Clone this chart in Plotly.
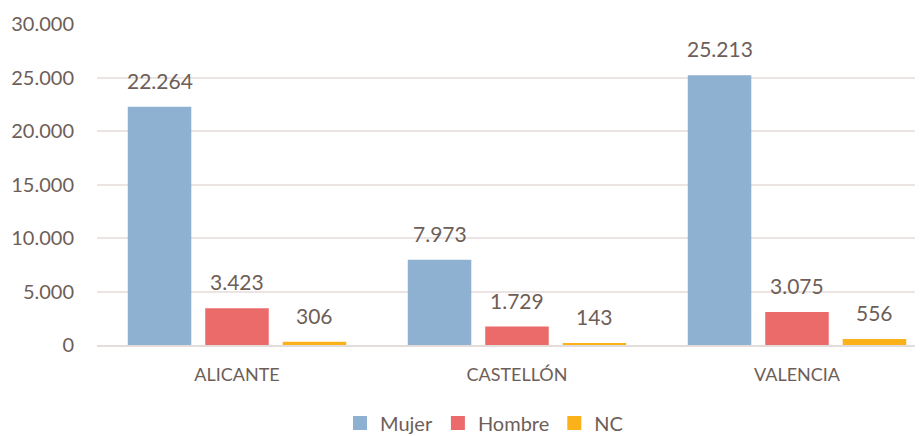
import plotly.graph_objects as go

categories = ["ALICANTE", "CASTELLÓN", "VALENCIA"]
series_names = ["Mujer", "Hombre", "NC"]
mujer = [22264, 7973, 25213]
hombre = [3423, 1729, 3075]
nc = [306, 143, 556]
y_ticks = [0, 5000, 10000, 15000, 20000, 25000, 30000]
y_tick_labels = ["0", "5.000", "10.000", "15.000", "20.000", "25.000", "30.000"]

colors = ["#8fb1d1", "#eb6b6b", "#fbb21a"]
text_color = "#6e5e58"
font_family = "Lato, 'Open Sans', sans-serif"

def fmt(v):
    return f"{v:,}".replace(",", ".")

fig = go.Figure()
all_series = [mujer, hombre, nc]
for name, vals, col in zip(series_names, all_series, colors):
    fig.add_trace(go.Bar(
        name=name, x=categories, y=vals, showlegend=False,
        marker=dict(color=col, line=dict(width=0)),
    ))
# legend entries with square swatches (as in the reference)
for name, col in zip(series_names, colors):
    fig.add_trace(go.Scatter(
        name=name, x=[None], y=[None], mode="markers",
        marker=dict(symbol="square", size=14, color=col),
        showlegend=True, hoverinfo="skip",
    ))

bargap = 0.17
slot = (1 - bargap) / 3.0
for si, vals in enumerate(all_series):
    off = (si - 1) * slot
    for ci, v in enumerate(vals):
        fig.add_annotation(
            x=ci + off, y=v, xref="x", yref="y",
            text=fmt(v), showarrow=False,
            yanchor="bottom", yshift=12,
            font=dict(family=font_family, size=21, color=text_color),
        )

# page body has an 8px default margin, so the figure is offset by 8px
fig.update_layout(
    width=915, height=428,
    margin=dict(l=89, r=0, t=16, b=91, autoexpand=False),
    paper_bgcolor="white", plot_bgcolor="white",
    barmode="group", bargap=bargap, bargroupgap=0.18,
    font=dict(family=font_family, color=text_color),
    showlegend=True,
    legend=dict(
        orientation="h", x=476 / 915, xanchor="center", xref="container",
        y=-0.243, yanchor="middle",
        font=dict(family=font_family, size=20, color=text_color),
        tracegroupgap=0, itemwidth=30,
    ),
    xaxis=dict(
        type="category", range=[-0.5, 2.45], automargin=False,
        showgrid=False, showline=True, linecolor="#e3dcda", linewidth=2,
        ticks="", tickfont=dict(family=font_family, size=18, color=text_color),
        ticklabelstandoff=12,
    ),
    yaxis=dict(
        range=[0, 30000], tickvals=y_ticks, ticktext=y_tick_labels,
        automargin=False,
        showgrid=True, gridcolor="#ebe4e2", gridwidth=2,
        zeroline=False, showline=False, ticks="",
        tickfont=dict(family=font_family, size=20, color=text_color),
        ticklabelstandoff=22,
    ),
)

fig.write_html("out.html")
